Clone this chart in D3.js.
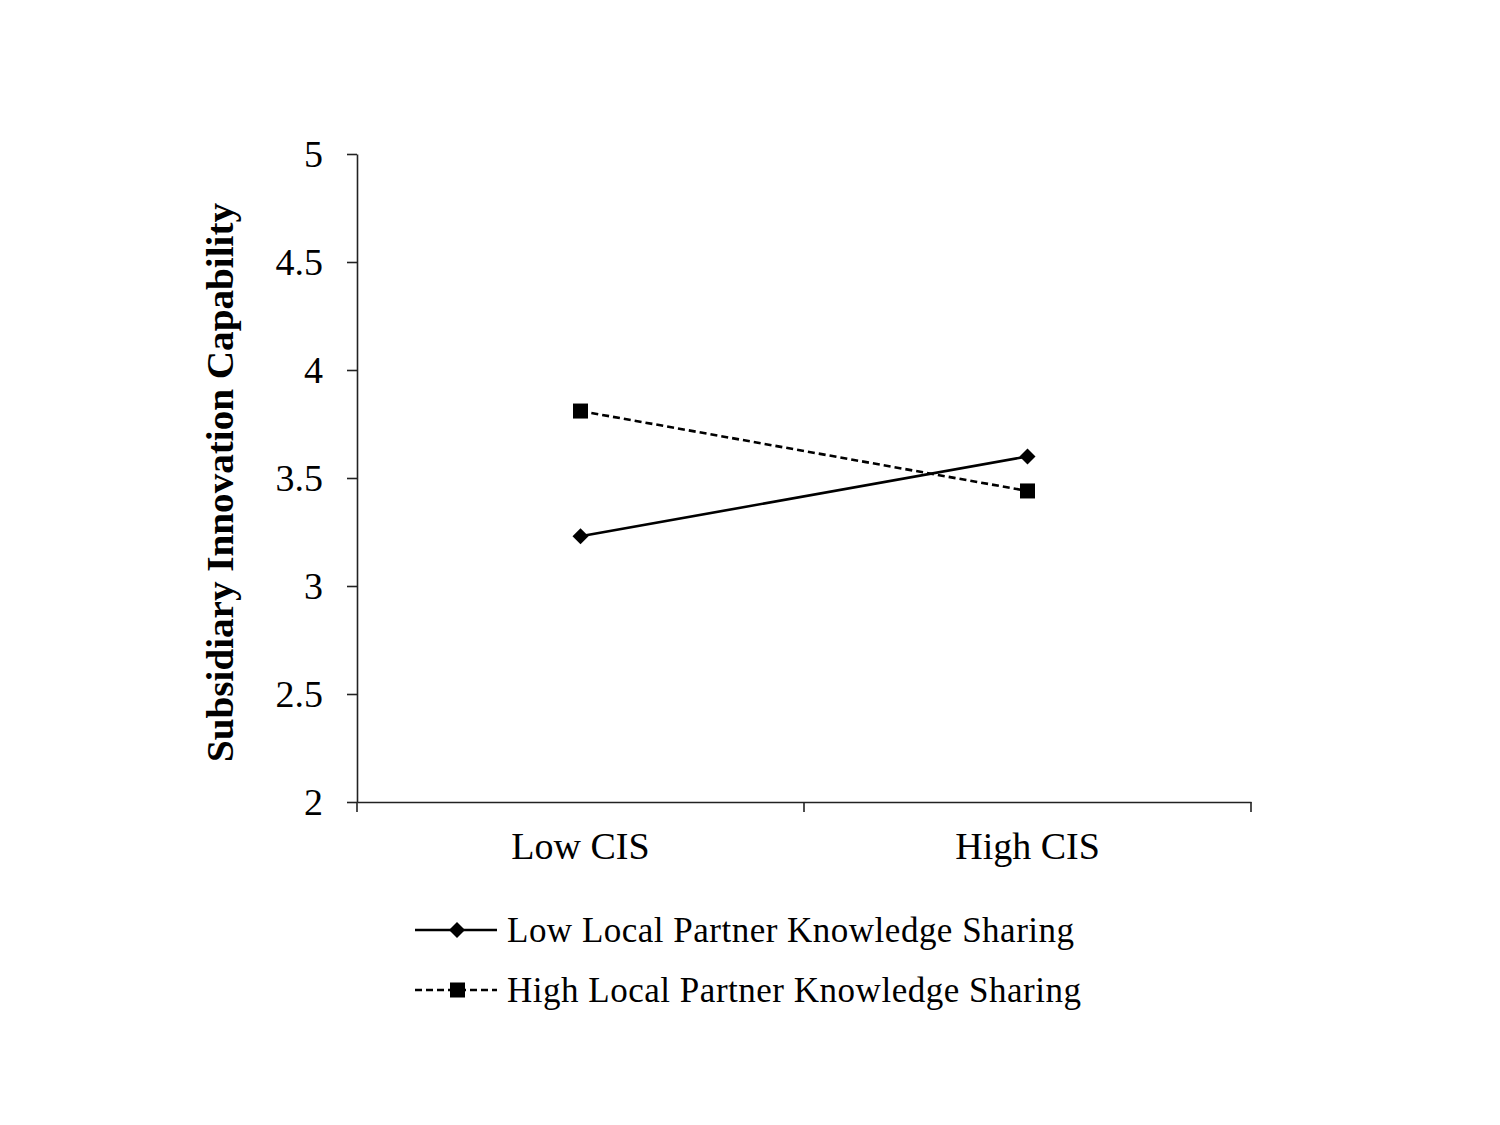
<!DOCTYPE html>
<html><head><meta charset="utf-8">
<script src="https://cdn.jsdelivr.net/npm/d3@7"></script>
<style>body{margin:0;background:#fff}svg{display:block}text{font-family:"Liberation Serif","Times New Roman",serif;fill:#000}</style>
</head><body><svg id="c" width="1500" height="1125"></svg>
<script>
const categories = ["Low CIS", "High CIS"];
const lowSeries = [3.23, 3.60];
const highSeries = [3.81, 3.44];
const seriesNames = ["Low Local Partner Knowledge Sharing", "High Local Partner Knowledge Sharing"];
const yTicks = [2, 2.5, 3, 3.5, 4, 4.5, 5];
const yTitle = "Subsidiary Innovation Capability";

const svg = d3.select("#c");
const x = d3.scaleBand().domain(categories).range([357, 1251]);
const y = d3.scaleLinear().domain([2, 5]).range([802, 154]);

// y axis
const ya = svg.append("g").attr("transform", "translate(357,0)")
  .call(d3.axisLeft(y).tickValues(yTicks).tickFormat(d => String(d)).tickSize(10).tickSizeOuter(0));
ya.selectAll("path,line").attr("stroke", "#222").attr("stroke-width", 1.6);
ya.selectAll("text").attr("font-size", 38).attr("font-family", "Liberation Serif").attr("x", -34).attr("dy", "0.34em");

// x axis
const xa = svg.append("g").attr("transform", "translate(0,802)")
  .call(d3.axisBottom(x).tickSize(0).tickSizeOuter(0));
xa.selectAll("path").attr("stroke", "#222").attr("stroke-width", 1.6);
xa.selectAll("text").attr("font-size", 38).attr("font-family", "Liberation Serif").attr("y", 57).attr("dy", 0);
// boundary ticks
const bounds = [x.range()[0], x(categories[1]), x.range()[1]];
svg.append("g").selectAll("line").data(bounds).join("line")
  .attr("x1", d => d).attr("x2", d => d).attr("y1", 802).attr("y2", 812)
  .attr("stroke", "#222").attr("stroke-width", 1.6);

// y title
svg.append("text").attr("transform", "translate(233,482.5) rotate(-90)")
  .attr("text-anchor", "middle").attr("font-size", 38).attr("font-weight", "bold")
  .attr("textLength", 559).attr("lengthAdjust", "spacingAndGlyphs").text(yTitle);

const cx = c => x(c) + x.bandwidth() / 2;
const line = d3.line().x((d, i) => cx(categories[i])).y(d => y(d));
const diamond = s => `M0,${-s}L${s},0L0,${s}L${-s},0Z`;

svg.append("path").datum(lowSeries).attr("d", line).attr("fill", "none").attr("stroke", "#000").attr("stroke-width", 2.6);
svg.append("path").datum(highSeries).attr("d", line).attr("fill", "none").attr("stroke", "#000").attr("stroke-width", 2.6).attr("stroke-dasharray", "7,4");

svg.append("g").selectAll("path").data(lowSeries).join("path")
  .attr("transform", (d, i) => `translate(${cx(categories[i])},${y(d)})`).attr("d", diamond(8)).attr("fill", "#000");
svg.append("g").selectAll("rect").data(highSeries).join("rect")
  .attr("x", (d, i) => cx(categories[i]) - 7.5).attr("y", d => y(d) - 7.5).attr("width", 15).attr("height", 15).attr("fill", "#000");

// legend
const leg = [{name: seriesNames[0], y: 930, dash: null, mk: "d", tl: 567}, {name: seriesNames[1], y: 990, dash: "7,4", mk: "s", tl: 574}];
leg.forEach(l => {
  svg.append("line").attr("x1", 415).attr("x2", 497).attr("y1", l.y).attr("y2", l.y)
    .attr("stroke", "#000").attr("stroke-width", 2.6).attr("stroke-dasharray", l.dash);
  if (l.mk === "d") svg.append("path").attr("transform", `translate(457,${l.y})`).attr("d", diamond(8)).attr("fill", "#000");
  else svg.append("rect").attr("x", 450).attr("y", l.y - 7.5).attr("width", 15).attr("height", 15).attr("fill", "#000");
  svg.append("text").attr("x", 507).attr("y", l.y + 12).attr("font-size", 35)
    .attr("textLength", l.tl).attr("lengthAdjust", "spacing").text(l.name);
});
</script></body></html>
